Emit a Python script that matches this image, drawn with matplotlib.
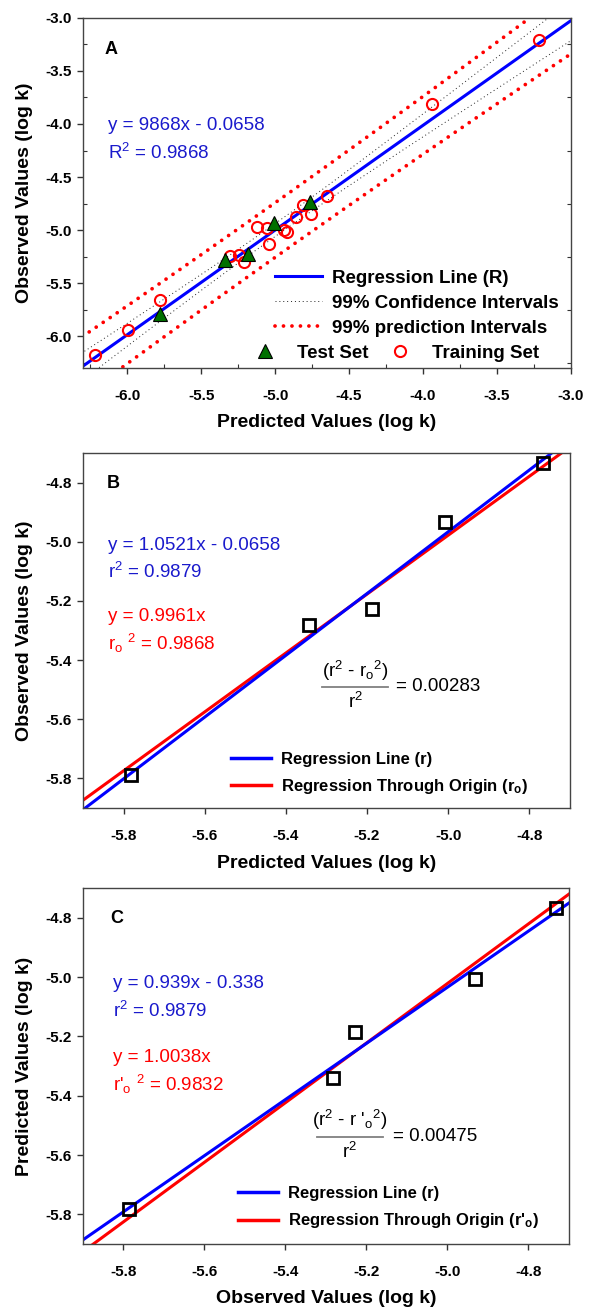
import numpy as np
import matplotlib
matplotlib.use("Agg")
import matplotlib.pyplot as plt
from matplotlib.lines import Line2D
from matplotlib.ticker import MultipleLocator

plt.rcParams['font.family'] = ['Liberation Sans', 'DejaVu Sans']
plt.rcParams['font.weight'] = 'bold'
plt.rcParams['mathtext.fontset'] = 'custom'
plt.rcParams['mathtext.rm'] = 'Liberation Sans:weight=normal'
plt.rcParams['mathtext.it'] = 'Liberation Sans:italic:weight=normal'
plt.rcParams['mathtext.bf'] = 'Liberation Sans:weight=bold'
plt.rcParams['axes.unicode_minus'] = False

# training set (panel A only)
train_pred = np.array([-6.221, -5.998, -5.782, -5.304, -5.243, -5.209, -5.123, -5.056, -5.040,
                       -4.938, -4.923, -4.860, -4.810, -4.760, -4.650, -3.938, -3.212])
train_obs = np.array([-6.181, -5.941, -5.658, -5.247, -5.232, -5.303, -4.967, -4.976, -5.129,
                      -5.001, -5.014, -4.874, -4.765, -4.852, -4.678, -3.815, -3.209])
# test set (panels A, B, C)
test_pred = np.array([-5.781, -5.342, -5.187, -5.007, -4.767])
test_obs = np.array([-5.787, -5.283, -5.228, -4.933, -4.733])

# regression reported in panel A
reg_a_slope = 0.9868
reg_a_intercept = -0.0658
t_99 = 2.947  # two-sided 99%, 15 dof

BLUE = '#0000ff'
RED = '#ff0000'
GREEN = '#007000'
LBL = dict(fontsize=14, fontweight='bold')
EQ = 13.5


def style_axes(ax, xlim, ylim, major, minor=None):
    ax.set_xlim(xlim)
    ax.set_ylim(ylim)
    ax.xaxis.set_major_locator(MultipleLocator(major))
    ax.yaxis.set_major_locator(MultipleLocator(major))
    ax.tick_params(which='major', direction='out', length=4, width=1,
                   labelsize=11, color='#333333')
    ax.tick_params(axis='x', which='major', pad=11)
    ax.tick_params(axis='y', which='major', pad=4)
    if minor:
        ax.xaxis.set_minor_locator(MultipleLocator(minor))
        ax.yaxis.set_minor_locator(MultipleLocator(minor))
        ax.tick_params(which='minor', direction='in', length=3, width=0.8,
                       left=True, right=True, bottom=True, color='#333333')
    for sp in ax.spines.values():
        sp.set_color('#444444')
        sp.set_linewidth(1.0)


def eq_text(ax, x, y, s, color):
    ax.text(x, y, s, transform=ax.transAxes, color=color, fontsize=EQ,
            fontweight='normal', va='center')


def fraction(ax, num, value, xc, y_num, x0, x1, y_bar, y_den, x_val):
    ax.text(xc, y_num, num, transform=ax.transAxes, ha='center', va='center',
            fontsize=EQ, fontweight='normal')
    ax.add_line(Line2D([x0, x1], [y_bar, y_bar], transform=ax.transAxes,
                       color='#808080', lw=1.3))
    ax.text(xc, y_den, 'r$^2$', transform=ax.transAxes, ha='center', va='center',
            fontsize=EQ, fontweight='normal')
    ax.text(x_val, y_bar, '= ' + value, transform=ax.transAxes, ha='left', va='center',
            fontsize=EQ, fontweight='normal')


fig = plt.figure(figsize=(6.03, 13.08), dpi=100)
axA = fig.add_axes([0.1376, 0.7187, 0.809, 0.2676])
axB = fig.add_axes([0.1376, 0.3823, 0.8076, 0.2714])
axC = fig.add_axes([0.1376, 0.0489, 0.806, 0.2722])

# ---------------- panel A ----------------
xlim_a = (-6.3, -3.0)
xs = np.linspace(xlim_a[0] - 0.1, xlim_a[1] + 0.1, 300)
fit_a = reg_a_slope * xs + reg_a_intercept
n = len(train_pred)
resid = train_obs - (reg_a_slope * train_pred + reg_a_intercept)
s = np.sqrt(np.sum(resid ** 2) / (n - 2))
xm = train_pred.mean()
sxx = np.sum((train_pred - xm) ** 2)
ci = t_99 * s * np.sqrt(1 / n + (xs - xm) ** 2 / sxx)
pi = t_99 * s * np.sqrt(1 + 1 / n + (xs - xm) ** 2 / sxx)

conf_style = dict(color='#222222', lw=0.7, linestyle=(0, (1, 3)))
pred_style = dict(color=RED, lw=2.7, linestyle=(0, (0.01, 2.25)), dash_capstyle='round')
axA.plot(xs, fit_a + pi, **pred_style)
axA.plot(xs, fit_a - pi, **pred_style)
axA.plot(xs, fit_a + ci, **conf_style)
axA.plot(xs, fit_a - ci, **conf_style)
axA.plot(xs, fit_a, color=BLUE, lw=2.2)
axA.plot(train_pred, train_obs, 'o', ms=8, mfc='none', mec=RED, mew=1.5)
axA.plot(test_pred, test_obs, '^', ms=10, mfc=GREEN, mec='black', mew=0.8)
style_axes(axA, xlim_a, (-6.3, -3.0), 0.5, 0.25)
axA.tick_params(which='major', right=False)
axA.set_xlabel('Predicted Values (log k)', labelpad=8, **LBL)
axA.set_ylabel('Observed Values (log k)', labelpad=9, **LBL)
axA.text(0.045, 0.911, 'A', transform=axA.transAxes, fontsize=13, fontweight='bold', va='center')
eq_text(axA, 0.051, 0.694, 'y = 9868x - 0.0658', '#1a1acc')
eq_text(axA, 0.051, 0.614, 'R$^2$ = 0.9868', '#1a1acc')

h_lines = [Line2D([], [], color=BLUE, lw=2.2),
           Line2D([], [], **conf_style),
           Line2D([], [], **pred_style)]
leg1 = axA.legend(h_lines, ['Regression Line (R)', '99% Confidence Intervals',
                            '99% prediction Intervals'],
                  loc='upper left', bbox_to_anchor=(0.393, 0.28), frameon=False,
                  borderpad=0, borderaxespad=0, handlelength=2.5, handletextpad=0.55,
                  labelspacing=0.42, prop=dict(size=13.5, weight='bold'))
axA.add_artist(leg1)
h_pts = [Line2D([], [], marker='^', ls='none', ms=10, mfc=GREEN, mec='black', mew=0.8),
         Line2D([], [], marker='o', ls='none', ms=8, mfc='none', mec=RED, mew=1.5)]
axA.legend(h_pts, ['Test Set', 'Training Set'], ncol=2, loc='upper left',
           bbox_to_anchor=(0.354, 0.066), frameon=False, borderpad=0, borderaxespad=0,
           handlelength=1.0, handletextpad=1.2, columnspacing=1.2,
           prop=dict(size=13.5, weight='bold'))

# ---------------- panel B ----------------
lim_bc = (-5.9, -4.7)
xs = np.linspace(lim_bc[0] - 0.1, lim_bc[1] + 0.1, 100)
b1, b0 = np.polyfit(test_pred, test_obs, 1)
b_org = np.sum(test_pred * test_obs) / np.sum(test_pred ** 2)
axB.plot(xs, b_org * xs, color=RED, lw=2.2)
axB.plot(xs, b1 * xs + b0, color=BLUE, lw=2.2)
axB.plot(test_pred, test_obs, 's', ms=9, mfc='none', mec='black', mew=2)
style_axes(axB, lim_bc, lim_bc, 0.2)
axB.set_xlabel('Predicted Values (log k)', labelpad=9, **LBL)
axB.set_ylabel('Observed Values (log k)', labelpad=9, **LBL)
axB.text(0.049, 0.913, 'B', transform=axB.transAxes, fontsize=13, fontweight='bold', va='center')
eq_text(axB, 0.052, 0.738, 'y = 1.0521x - 0.0658', '#1a1acc')
eq_text(axB, 0.052, 0.665, 'r$^2$ = 0.9879', '#1a1acc')
eq_text(axB, 0.052, 0.538, 'y = 0.9961x', RED)
eq_text(axB, 0.052, 0.462, r'r$_{\mathrm{o}}$ $^{2}$ = 0.9868', RED)
fraction(axB, r'(r$^2$ - r$_{\mathrm{o}}$$^{2}$)', '0.00283',
         0.559, 0.386, 0.491, 0.626, 0.341, 0.299, 0.643)
axB.legend([Line2D([], [], color=BLUE, lw=2.5), Line2D([], [], color=RED, lw=2.5)],
           ['Regression Line (r)', r'Regression Through Origin (r$_\mathbf{o}$)'],
           loc='upper left', bbox_to_anchor=(0.304, 0.158), frameon=False, borderpad=0,
           borderaxespad=0, handlelength=2.4, handletextpad=0.6, labelspacing=0.62,
           prop=dict(size=12, weight='bold'))

# ---------------- panel C ----------------
c1, c0 = np.polyfit(test_obs, test_pred, 1)
c_org = np.sum(test_pred * test_obs) / np.sum(test_obs ** 2)
axC.plot(xs, c_org * xs, color=RED, lw=2.2)
axC.plot(xs, c1 * xs + c0, color=BLUE, lw=2.2)
axC.plot(test_obs, test_pred, 's', ms=9, mfc='none', mec='black', mew=2)
style_axes(axC, lim_bc, lim_bc, 0.2)
axC.set_xlabel('Observed Values (log k)', labelpad=8, **LBL)
axC.set_ylabel('Predicted Values (log k)', labelpad=9, **LBL)
axC.text(0.057, 0.913, 'C', transform=axC.transAxes, fontsize=13, fontweight='bold', va='center')
eq_text(axC, 0.062, 0.733, 'y = 0.939x - 0.338', '#1a1acc')
eq_text(axC, 0.062, 0.655, 'r$^2$ = 0.9879', '#1a1acc')
eq_text(axC, 0.062, 0.525, 'y = 1.0038x', RED)
eq_text(axC, 0.062, 0.449, r"r'$_{\mathrm{o}}$ $^{2}$ = 0.9832", RED)
fraction(axC, r"(r$^2$ - r '$_{\mathrm{o}}$$^{2}$)", '0.00475',
         0.549, 0.348, 0.481, 0.617, 0.301, 0.258, 0.638)
axC.legend([Line2D([], [], color=BLUE, lw=2.5), Line2D([], [], color=RED, lw=2.5)],
           ['Regression Line (r)', r"Regression Through Origin (r'$_\mathbf{o}$)"],
           loc='upper left', bbox_to_anchor=(0.319, 0.163), frameon=False, borderpad=0,
           borderaxespad=0, handlelength=2.4, handletextpad=0.6, labelspacing=0.62,
           prop=dict(size=12, weight='bold'))

fig.savefig('out.png', dpi=100)
